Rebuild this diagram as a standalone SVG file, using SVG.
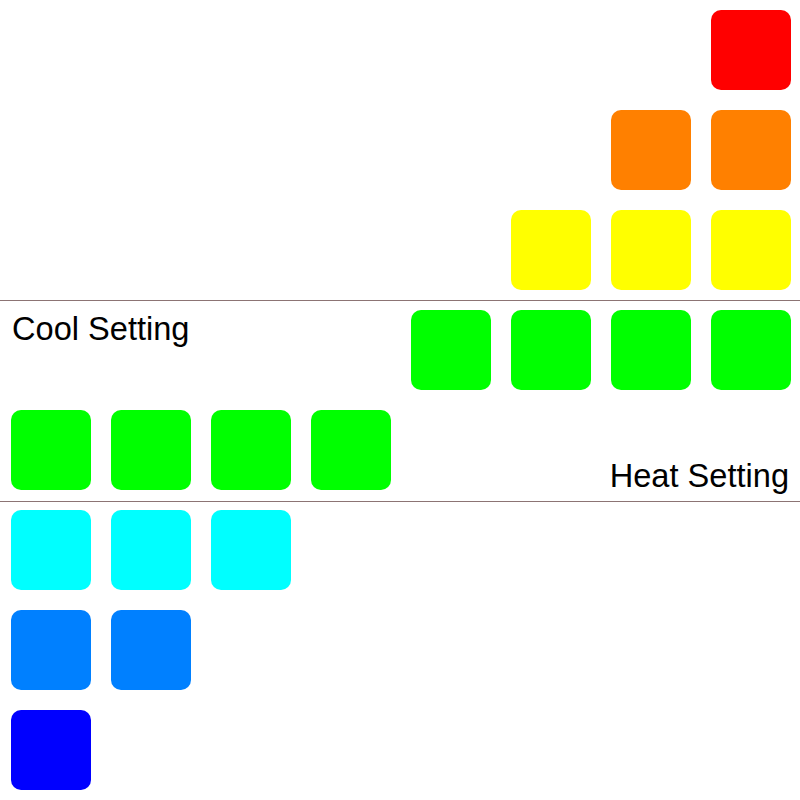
<svg xmlns="http://www.w3.org/2000/svg" width="800" height="800" viewBox="0 0 800 800">
<style>
.lbl{font-family:"Liberation Sans",Arial,sans-serif;font-size:32.6px;fill:#000}
.ln{stroke:#8c7474;stroke-width:1.2}
</style>
<rect width="800" height="800" fill="#fff"/>
<g id="connectors">
<line class="ln" x1="0" y1="300.5" x2="800" y2="300.5"/>
<line class="ln" x1="0" y1="501.5" x2="800" y2="501.5"/>
</g>
<g id="r0"><rect x="711" y="10" width="80" height="80" rx="10" fill="#ff0000"/></g>
<g id="r1" fill="#ff8000">
<rect x="611" y="110" width="80" height="80" rx="10"/>
<rect x="711" y="110" width="80" height="80" rx="10"/>
</g>
<g id="r2" fill="#ffff00">
<rect x="511" y="210" width="80" height="80" rx="10"/>
<rect x="611" y="210" width="80" height="80" rx="10"/>
<rect x="711" y="210" width="80" height="80" rx="10"/>
</g>
<g id="r3" fill="#00ff00">
<rect x="411" y="310" width="80" height="80" rx="10"/>
<rect x="511" y="310" width="80" height="80" rx="10"/>
<rect x="611" y="310" width="80" height="80" rx="10"/>
<rect x="711" y="310" width="80" height="80" rx="10"/>
</g>
<g id="r4" fill="#00ff00">
<rect x="11" y="410" width="80" height="80" rx="10"/>
<rect x="111" y="410" width="80" height="80" rx="10"/>
<rect x="211" y="410" width="80" height="80" rx="10"/>
<rect x="311" y="410" width="80" height="80" rx="10"/>
</g>
<g id="r5" fill="#00ffff">
<rect x="11" y="510" width="80" height="80" rx="10"/>
<rect x="111" y="510" width="80" height="80" rx="10"/>
<rect x="211" y="510" width="80" height="80" rx="10"/>
</g>
<g id="r6" fill="#0080ff">
<rect x="11" y="610" width="80" height="80" rx="10"/>
<rect x="111" y="610" width="80" height="80" rx="10"/>
</g>
<g id="r7" fill="#0000ff">
<rect x="11" y="710" width="80" height="80" rx="10"/>
</g>
<g id="cool"><text class="lbl" x="12" y="340">Cool Setting</text></g>
<g id="heat"><text class="lbl" x="789" y="487" text-anchor="end">Heat Setting</text></g>
</svg>
